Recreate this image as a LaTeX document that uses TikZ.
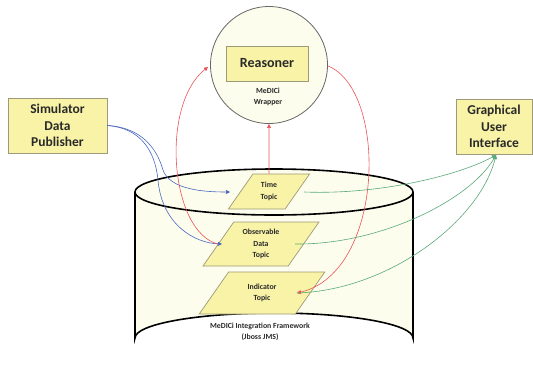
\documentclass[tikz,border=0pt]{standalone}
\usepackage{fontspec}
\setmainfont{Carlito}
\usetikzlibrary{shapes.geometric,arrows.meta}
\definecolor{boxfill}{HTML}{F8F3A6}
\definecolor{boxline}{HTML}{9C9A78}
\definecolor{cylfill}{HTML}{FDFDEE}
\definecolor{txt}{HTML}{2A2A2A}
\definecolor{redl}{HTML}{E8555A}
\definecolor{bluel}{HTML}{4A68C0}
\definecolor{greenl}{HTML}{5AA878}
\begin{document}
\begin{tikzpicture}[x=1pt,y=-1pt,
  bigbox/.style={draw=boxline,fill=boxfill,line width=0.9pt,align=center,font=\bfseries\fontsize{13.5}{16.5}\selectfont,text=txt,inner sep=0pt},
  topic/.style={trapezium,trapezium left angle=55,trapezium right angle=125,draw=boxline,fill=boxfill,line width=0.7pt,align=center,font=\bfseries\fontsize{7.8}{11.5}\selectfont,text=txt,inner sep=0pt},
  small/.style={align=center,font=\bfseries\fontsize{7.8}{11.5}\selectfont,text=txt},
  tip/.style={-{Triangle[length=4pt,width=4pt]}},
  redc/.style={tip,draw=redl,line width=0.6pt},
  bluec/.style={tip,draw=bluel,line width=0.6pt},
  greenc/.style={tip,draw=greenl,line width=0.6pt}]
\useasboundingbox (0,0) rectangle (533,365);
% cylinder
\fill[cylfill] (135,192) -- (135,338) arc[start angle=180,end angle=360,x radius=139,y radius=25] -- (413,192) -- cycle;
\draw[line width=1.6pt] (135,192) -- (135,338) arc[start angle=180,end angle=360,x radius=139,y radius=25] -- (413,192);
\draw[line width=1.6pt,fill=cylfill] (274,192) ellipse[x radius=139,y radius=23];
% circle
\node[circle,draw=gray!80!black,fill=cylfill,line width=0.8pt,minimum size=117pt,inner sep=0pt] (wrap) at (269,65) {};
\node[bigbox,minimum width=82pt,minimum height=35pt,font=\bfseries\fontsize{14}{16.5}\selectfont] (reas) at (267,63.5) {Reasoner};
\node[small] (wlab) at (268,97) {MeDICi\\Wrapper};
% boxes
\node[bigbox,minimum width=99pt,minimum height=55pt] (sim) at (57.5,125.5) {Simulator\\Data\\Publisher};
\node[bigbox,minimum width=76pt,minimum height=55pt] (gui) at (494,126.5) {Graphical\\User\\Interface};
% topics
\node[topic,minimum width=68pt,minimum height=35pt] (time) at (269,191.5) {Time\\Topic};
\node[topic,minimum width=64pt,minimum height=44pt] (obs) at (261,244) {Observable\\Data\\Topic};
\node[topic,minimum width=64pt,minimum height=42pt] (ind) at (262,293) {Indicator\\Topic};
\node[small] (fw) at (260,332) {MeDICi Integration Framework\\(Jboss JMS)};
% coordinates
\coordinate (gp) at (496,155);
% blue
\draw[bluec] (sim.east) .. controls (150,128) and (160,160) .. (163,170) .. controls (170,190) and (205,192) .. (230,192);
\draw[bluec] (sim.east) .. controls (140,128) and (155,150) .. (158,180) .. controls (162,225) and (195,243) .. (222,244);
% red
\draw[redc] (obs.west) .. controls (170,232) and (160,105) .. (208,67);
\draw[redc] (time.north) -- (wrap.south);
\draw[redc] (328,66) .. controls (388,90) and (385,272) .. (297,293);
% green
\draw[greenc] (304,192) .. controls (380,195) and (460,175) .. (gp);
\draw[greenc] (295,244) .. controls (380,245) and (470,200) .. (gp);
\draw[greenc] (297,293) .. controls (390,290) and (480,220) .. (gp);
\end{tikzpicture}
\end{document}
